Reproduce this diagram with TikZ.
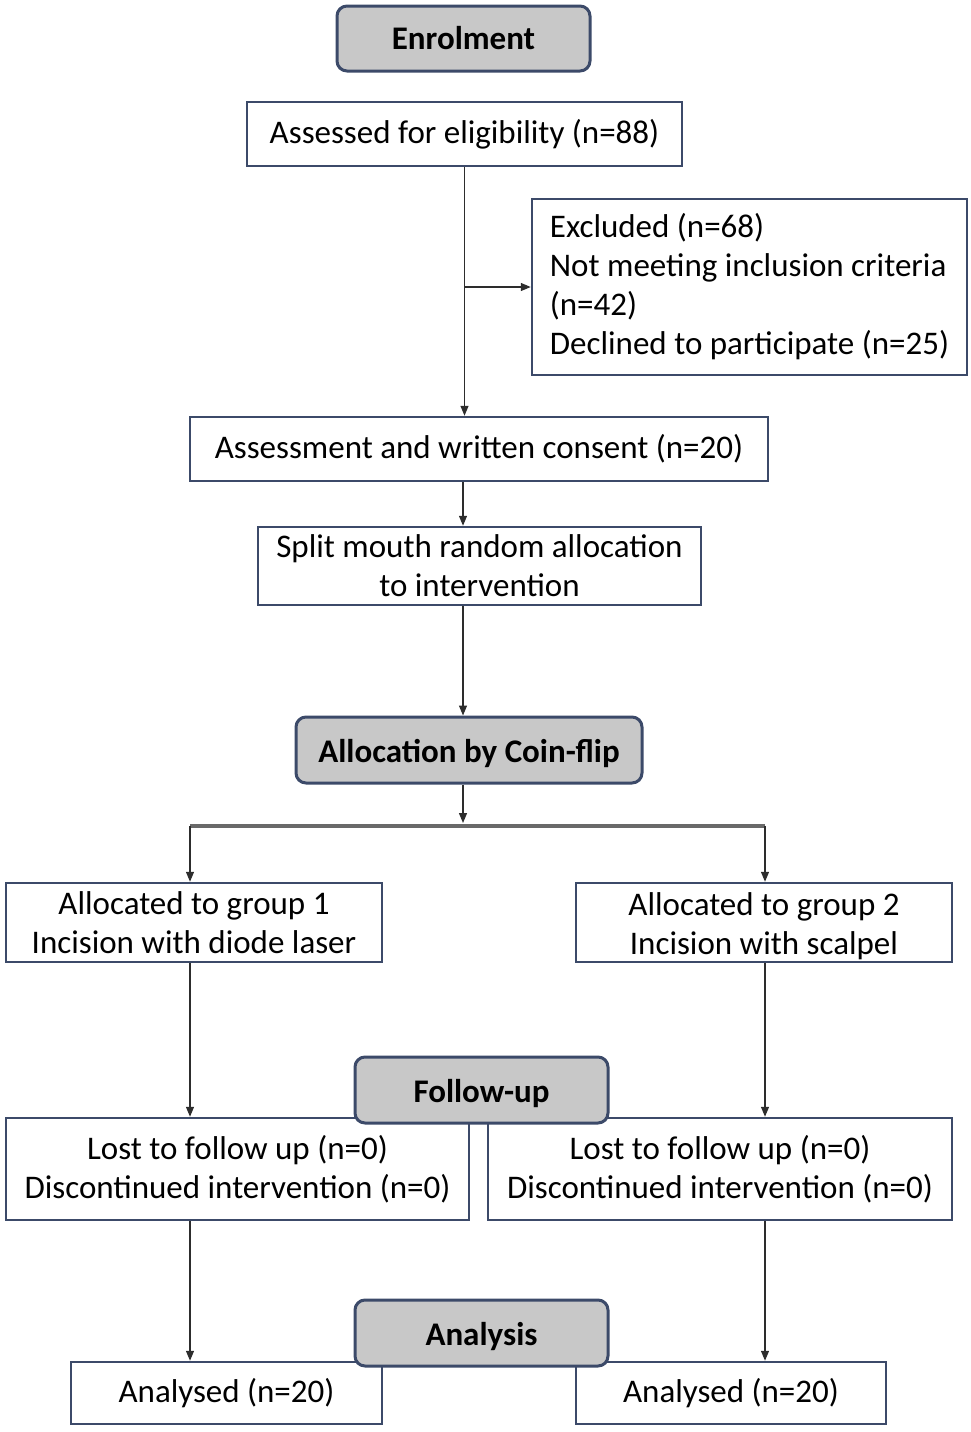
\documentclass[tikz,border=0pt]{standalone}
\usepackage{fontspec}
\setmainfont{Carlito}
\usetikzlibrary{arrows.meta}
\definecolor{bord}{RGB}{60,74,105}
\definecolor{boxgray}{RGB}{200,200,200}
\definecolor{linec}{RGB}{45,45,45}
\definecolor{barc}{RGB}{105,105,105}
\newcommand{\lowstrut}{\rule{0pt}{30pt}}
\begin{document}
\begin{tikzpicture}[x=1pt,y=-1pt,
  wbox/.style={draw=bord, line width=2.5pt, fill=white, inner sep=0pt, align=center,
    font=\fontsize{33}{39}\selectfont},
  gbox/.style={draw=bord, line width=3pt, fill=boxgray, rounded corners=10pt, inner sep=0pt,
    font=\fontsize{33}{39}\selectfont\bfseries},
  conn/.style={draw=linec, line width=1.3pt, -{Triangle[length=10pt,width=8pt]}},
  barline/.style={draw=barc, line width=4pt}]
\useasboundingbox (0,0) rectangle (970,1432);
% white boxes
\node[wbox, minimum width=435pt, minimum height=64pt] (assessed) at (464.5,134) {Assessed for eligibility (n=88)};
\node[wbox, minimum width=435pt, minimum height=176pt, align=left] (excl) at (749.5,287)
  {Excluded (n=68)\\ Not meeting inclusion criteria\\ (n=42)\\ Declined to participate (n=25)};
\node[wbox, minimum width=578pt, minimum height=64pt] (consent) at (479,449) {Assessment and written consent (n=20)};
\node[wbox, minimum width=443pt, minimum height=78pt] (split) at (479.5,566) {Split mouth random allocation\\ to intervention};
\node[wbox, minimum width=376pt, minimum height=79pt] (g1) at (194,922.5) {Allocated to group 1\\ Incision with diode laser};
\node[wbox, minimum width=376pt, minimum height=79pt] (g2) at (764,922.5) {\lowstrut Allocated to group 2\\ Incision with scalpel};
\node[wbox, minimum width=463pt, minimum height=102pt] (lostL) at (237.5,1169) {Lost to follow up (n=0)\\ Discontinued intervention (n=0)};
\node[wbox, minimum width=464pt, minimum height=102pt] (lostR) at (720,1169) {Lost to follow up (n=0)\\ Discontinued intervention (n=0)};
\node[wbox, minimum width=311pt, minimum height=62pt] (anL) at (226.5,1393) {Analysed (n=20)};
\node[wbox, minimum width=310pt, minimum height=62pt] (anR) at (731,1393) {Analysed (n=20)};
% coordinates
\coordinate (bar) at (463,823);
\coordinate (barL) at (190,826);
\coordinate (barR) at (765,826);
% connectors
\draw[conn] (assessed.south) -- (assessed.south |- consent.north);
\draw[conn] (assessed.south |- excl.west) -- (excl.west);
\draw[conn] (consent.south -| bar) -- (split.north -| bar);
\draw[conn] (split.south -| bar) -- (bar |- 0,715.5);
\draw[barline] (barL) -- (barR);
\draw[conn] (bar |- 0,784.5) -- (bar);
\draw[conn] (barL) -- (barL |- g1.north);
\draw[conn] (barR) -- (barR |- g2.north);
\draw[conn] (g1.south -| barL) -- (lostL.north -| barL);
\draw[conn] (g2.south -| barR) -- (lostR.north -| barR);
\draw[conn] (lostL.south -| barL) -- (anL.north -| barL);
\draw[conn] (lostR.south -| barR) -- (anR.north -| barR);
% gray stage boxes
\node[gbox, minimum width=253pt, minimum height=65pt] (enrol) at (463.5,38.5) {Enrolment};
\node[gbox, minimum width=346pt, minimum height=66pt] (alloc) at (469,750) {\lowstrut Allocation by Coin-flip};
\node[gbox, minimum width=253pt, minimum height=66pt] (follow) at (481.5,1090) {\lowstrut Follow-up};
\node[gbox, minimum width=253pt, minimum height=66pt] (analysis) at (481.5,1333) {\lowstrut Analysis};
\end{tikzpicture}
\end{document}
